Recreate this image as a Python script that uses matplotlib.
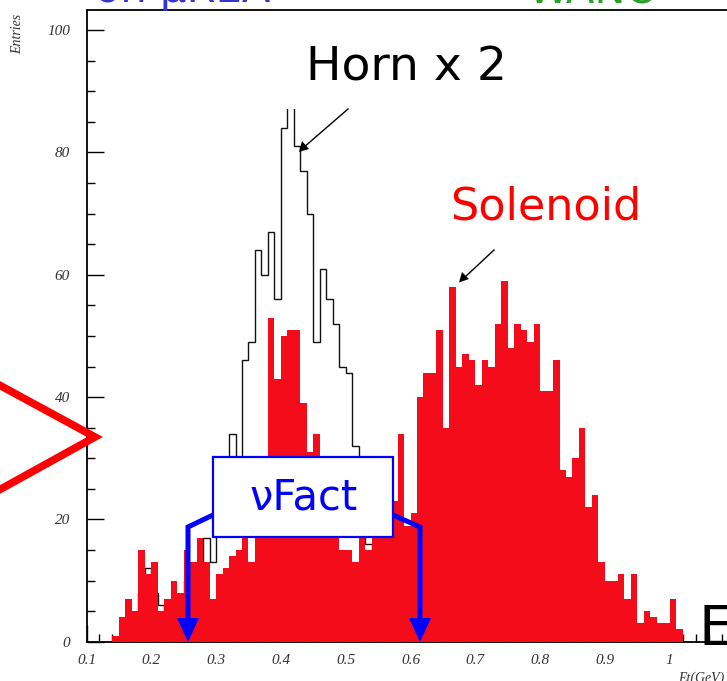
import numpy as np
import matplotlib
matplotlib.use("Agg")
import matplotlib.pyplot as plt
from matplotlib.patches import Rectangle, Polygon
from matplotlib.lines import Line2D

# ---------------- data ----------------
bin_start = 0.14
bin_width = 0.01
# Solenoid (red filled histogram), 88 bins from 0.14 to 1.02
solenoid = [1, 4, 7, 5, 15, 11, 13, 5, 7, 10,
            8, 15, 13, 17, 13, 7, 11, 12, 14, 15,
            18, 13, 25, 28, 53, 43, 50, 51, 51, 39,
            31, 34, 25, 22, 20, 15, 15, 13, 18, 15,
            20, 22, 25, 23, 34, 19, 21, 40, 44, 44,
            51, 35, 58, 45, 47, 46, 42, 46, 45, 52,
            59, 48, 52, 51, 49, 52, 41, 41, 46, 28,
            27, 30, 35, 22, 24, 13, 10, 10, 11, 7,
            11, 3, 5, 4, 3, 3, 7, 2]
# Horn x 2 (black outline histogram), same bins
horn = [0, 1, 2, 3, 8, 12, 8, 6, 5, 7,
        6, 10, 9, 12, 17, 13, 24, 27, 34, 26,
        46, 49, 64, 60, 67, 56, 84, 100, 81, 77,
        70, 49, 61, 56, 52, 45, 44, 32, 24, 16,
        10, 8, 6, 4, 3, 2, 1, 0, 0, 0,
        0, 0, 0, 0, 0, 0, 0, 0, 0, 0,
        0, 0, 0, 0, 0, 0, 0, 0, 0, 0,
        0, 0, 0, 0, 0, 0, 0, 0, 0, 0,
        0, 0, 0, 0, 0, 0, 0, 0]
x_ticks = [0.1, 0.2, 0.3, 0.4, 0.5, 0.6, 0.7, 0.8, 0.9, 1.0]
x_tick_labels = ["0.1", "0.2", "0.3", "0.4", "0.5", "0.6", "0.7", "0.8", "0.9", "1"]
y_ticks = [0, 20, 40, 60, 80, 100]

# ---------------- figure ----------------
W, H = 727, 681
fig = plt.figure(figsize=(W / 100, H / 100), dpi=100)

def fx(x):
    return x / W

def fy(y):
    return 1 - y / H

ax_left, ax_right, ax_top, ax_bottom = 86.5, 734.5, 10, 641.7
ax = fig.add_axes([fx(ax_left), fy(ax_bottom), (ax_right - ax_left) / W, (ax_bottom - ax_top) / H])

edges = bin_start + bin_width * np.arange(len(solenoid) + 1)
RED = "#f40c1b"
ax.stairs(horn, edges, color="#111111", lw=1.0, zorder=2, baseline=None)
ax.stairs(solenoid, edges, fill=True, color=RED, zorder=3)

ax.set_xlim(0.1, 1.1)
ax.set_ylim(0, 103.3)

serif_it = dict(family="Liberation Serif", style="italic")
ax.set_xticks(x_ticks)
ax.set_xticklabels(x_tick_labels, fontsize=11, color="#333333", **serif_it)
ax.set_xticks(np.arange(0.1, 1.1, 0.02), minor=True)
ax.set_yticks(y_ticks)
ax.set_yticklabels([str(v) for v in y_ticks], fontsize=11, color="#333333", **serif_it)
ax.set_yticks(np.arange(0, 101, 5), minor=True)
ax.tick_params(axis="both", which="major", direction="in", length=12, width=1, color="black")
ax.tick_params(axis="both", which="minor", direction="in", length=6, width=1, color="black")
ax.tick_params(axis="x", which="major", pad=9)
ax.tick_params(axis="y", which="major", pad=12)
for s in ax.spines.values():
    s.set_linewidth(1.3)

# white block hiding the top of the Horn peak
fig.patches.append(Rectangle((fx(280), fy(109)), (540 - 280) / W, (109 - 16) / H,
                             transform=fig.transFigure, facecolor="white", edgecolor="none", zorder=5))

# axis titles
fig.text(fx(18), fy(14), "Entries", rotation=90, ha="center", va="top", fontsize=10, color="#333333", **serif_it)
fig.text(fx(678), fy(672), "Et(GeV)", ha="left", va="top", fontsize=10, color="#333333", **serif_it)

# annotation texts
fig.text(fx(407), fy(68), "Horn x 2", ha="center", va="center", fontsize=34, color="black", zorder=6)
fig.text(fx(546), fy(207), "Solenoid", ha="center", va="center", fontsize=32, color="red", zorder=6)
fig.text(fx(699), fy(630), "E", ha="left", va="center", fontsize=40, color="black", zorder=6)
fig.text(fx(95), fy(2), "on μREA", ha="left", va="baseline", fontsize=30, color="#3535d0", zorder=6)
fig.text(fx(528), fy(3), "WANO", ha="left", va="baseline", fontsize=30, color="#2aa02a", zorder=6)

# thin black arrows
fig.add_artist(Line2D([fx(348), fx(303)], [fy(109), fy(148)], color="black", lw=1, zorder=7))
fig.add_artist(Polygon([[fx(299), fy(152)], [fx(302), fy(141)], [fx(309), fy(149)]], closed=True,
                       transform=fig.transFigure, facecolor="black", edgecolor="none", zorder=7))
fig.add_artist(Line2D([fx(494), fx(464)], [fy(250), fy(278)], color="black", lw=1, zorder=7))
fig.add_artist(Polygon([[fx(459), fy(282.5)], [fx(462), fy(272)], [fx(469), fy(279)]], closed=True,
                       transform=fig.transFigure, facecolor="black", edgecolor="none", zorder=7))

# red ">" shape at left
fig.add_artist(Line2D([fx(-10), fx(95), fx(-10)], [fy(380), fy(437), fy(495)], color="red", lw=5.5,
                      solid_joinstyle="miter", zorder=7))

# vFact box with blue arrows
BLUE = "#0000ff"
fig.add_artist(Line2D([fx(213), fx(188), fx(188)], [fy(515), fy(527), fy(620)], color=BLUE, lw=3.6,
                      solid_joinstyle="miter", zorder=7))
fig.add_artist(Polygon([[fx(177), fy(618)], [fx(199), fy(618)], [fx(188), fy(642)]], closed=True,
                       transform=fig.transFigure, facecolor=BLUE, edgecolor="none", zorder=7))
fig.add_artist(Line2D([fx(393), fx(420), fx(420)], [fy(515), fy(527), fy(620)], color=BLUE, lw=3.6,
                      solid_joinstyle="miter", zorder=7))
fig.add_artist(Polygon([[fx(409), fy(618)], [fx(431), fy(618)], [fx(420), fy(642)]], closed=True,
                       transform=fig.transFigure, facecolor=BLUE, edgecolor="none", zorder=7))
fig.add_artist(Rectangle((fx(213), fy(537)), (393 - 213) / W, (537 - 457) / H, transform=fig.transFigure,
                         facecolor="white", edgecolor=BLUE, lw=1.6, zorder=8))
fig.text(fx(304), fy(497), "νFact", ha="center", va="center", fontsize=30, color=BLUE, zorder=9)

fig.savefig("out.png", dpi=100)
